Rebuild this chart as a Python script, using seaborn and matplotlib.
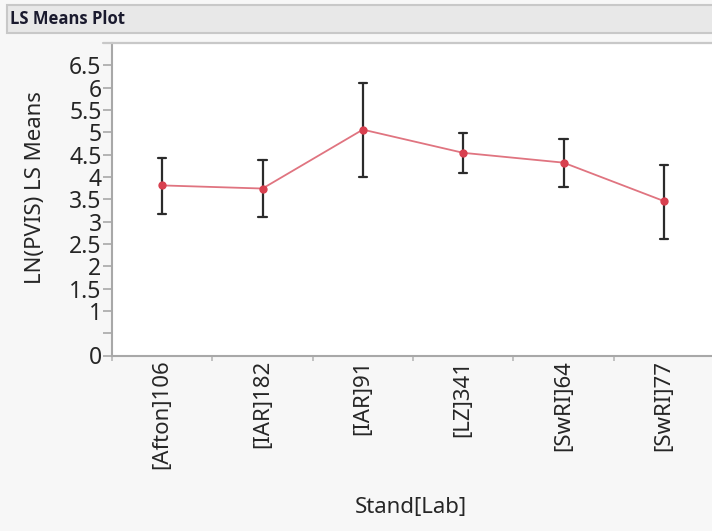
import numpy as np
import pandas as pd
import matplotlib
matplotlib.use("Agg")
import matplotlib.pyplot as plt
from matplotlib.patches import Rectangle
from matplotlib.lines import Line2D
import seaborn as sns

# ---- data ----
categories = ["[Afton]106", "[IAR]182", "[IAR]91", "[LZ]341", "[SwRI]64", "[SwRI]77"]
ls_means = [3.81, 3.74, 5.06, 4.54, 4.32, 3.46]
lower_ci = [3.16, 3.10, 3.99, 4.09, 3.77, 2.61]
upper_ci = [4.43, 4.37, 6.10, 4.98, 4.85, 4.27]
y_ticks = [0, 0.5, 1, 1.5, 2, 2.5, 3, 3.5, 4, 4.5, 5, 5.5, 6, 6.5]
y_tick_labels = ["0", "", "1", "1.5", "2", "2.5", "3", "3.5", "4", "4.5", "5", "5.5", "6", "6.5"]

# long table: median of (lower, mean, upper) = mean, 100% interval = [lower, upper]
rows = []
for c, lo, m, hi in zip(categories, lower_ci, ls_means, upper_ci):
    for v in (lo, m, hi):
        rows.append({"Stand[Lab]": c, "value": v})
df = pd.DataFrame(rows)

sns.set_style("white")
plt.rcParams["font.family"] = ["Noto Sans", "DejaVu Sans"]

W, H = 712, 531
fig = plt.figure(figsize=(W / 100, H / 100), dpi=100)
fig.patch.set_facecolor("#f7f7f7")

# axes placement in pixels
ax_l, ax_r, ax_t, ax_b = 112, 714, 43, 355.5
ax = fig.add_axes([ax_l / W, (H - ax_b) / H, (ax_r - ax_l) / W, (ax_b - ax_t) / H])
ax.set_facecolor("white")

sns.pointplot(
    data=df, x="Stand[Lab]", y="value", ax=ax,
    estimator="median", errorbar=("pi", 100),
    color="#e07480", markers="o", markersize=5, linewidth=1.3,
    capsize=0.08,
    err_kws={"color": "#2b2b2b", "linewidth": 1.6},
)
for ln in ax.lines:
    if ln.get_marker() == "o":
        ln.set_markerfacecolor("#d8404f")
        ln.set_markeredgecolor("#d8404f")
        ln.set_zorder(5)

ax.set_xlim(-0.5, 5.5)
ax.set_ylim(0, 7.0)
ax.set_yticks(y_ticks)
ax.set_yticklabels(y_tick_labels)
ax.set_xticks(range(len(categories)))
ax.set_xticklabels(categories, rotation=90, va="top", ha="center")
ax.set_xticks(np.arange(-0.5, len(categories), 1.0), minor=True)

ax.tick_params(axis="y", which="major", length=6.5, width=1.2, color="#a8a8a8",
               labelsize=16.5, pad=1, direction="out", left=True)
ax.tick_params(axis="x", which="major", length=0, labelsize=16, pad=3)
ax.tick_params(axis="x", which="minor", length=3.5, width=1.2, color="#b8b8b8",
               direction="out", bottom=True)

for side in ("left", "bottom"):
    ax.spines[side].set_color("#a8a8a8")
    ax.spines[side].set_linewidth(1.5)
ax.spines["top"].set_visible(False)
ax.spines["right"].set_visible(False)

ax.set_ylabel("LN(PVIS) LS Means", fontsize=16)
ax.set_xlabel("Stand[Lab]", fontsize=16)
ax.yaxis.set_label_coords((46 - ax_l) / (ax_r - ax_l), (ax_b - 187.5) / (ax_b - ax_t))
ax.xaxis.set_label_coords((411 - ax_l) / (ax_r - ax_l), (ax_b - 497) / (ax_b - ax_t))

# JMP-like outline header bar
fig.add_artist(Rectangle((7 / W, (H - 33) / H), (W - 7 + 10) / W, 28 / H,
                         transform=fig.transFigure, facecolor="#e8e8e8",
                         edgecolor="#c8c8c8", linewidth=1.5, zorder=0))
fig.text(10 / W, (H - 19) / H, "LS Means Plot", fontsize=12, fontweight="bold",
         family=["Open Sans", "DejaVu Sans"],
         va="center", ha="left", color="#1a1a2e")
# top frame line
fig.add_artist(Line2D([103 / W, 1.0], [(H - 43) / H, (H - 43) / H],
                      transform=fig.transFigure, color="#c8c8c8", linewidth=1.6))

fig.savefig("out.png", dpi=100, facecolor=fig.get_facecolor())
